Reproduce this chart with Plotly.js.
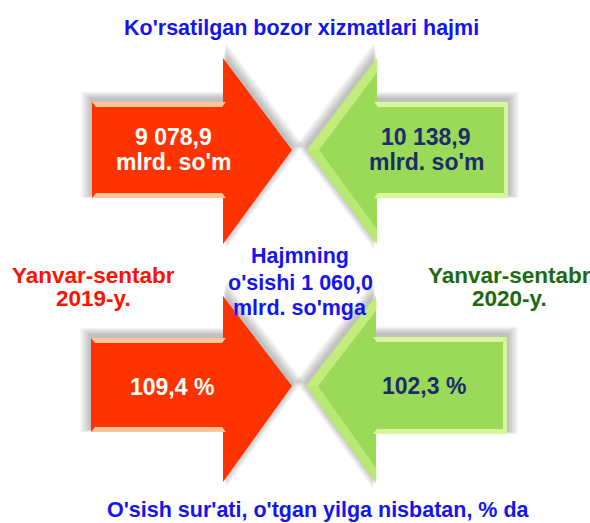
<!DOCTYPE html>
<html>
<head>
<meta charset="utf-8">
<script src="https://cdn.plot.ly/plotly-3.0.1.min.js"></script>
<style>html,body{margin:0;padding:0;background:#fff;}#chart{width:590px;height:523px;}</style>
</head>
<body>
<div id="chart"></div>
<script>
// ---- data ----
const titleTop = "Ko'rsatilgan bozor xizmatlari hajmi";
const titleBottom = "O'sish sur'ati, o'tgan yilga nisbatan, % da";
const periodLabels = ["Yanvar-sentabr", "Yanvar-sentabr"];
const yearLabels = ["2019-y.", "2020-y."];
const volumes = [9078.9, 10138.9];          // mlrd. so'm
const growthRates = [109.4, 102.3];         // %
const unitVolume = "mlrd. so'm";
const increaseLines = ["Hajmning", "o'sishi", "mlrd. so'mga"];

function fmt(v) {
  const s = v.toFixed(1).split(".");
  const ip = s[0].replace(/\B(?=(\d{3})+(?!\d))/g, " ");
  return ip + "," + s[1];
}
const increase = Math.round((volumes[1] - volumes[0]) * 10) / 10;

// ---- geometry (pixel space) ----
const FONT = "Liberation Sans, Arial, sans-serif";
const RED = "#FF3300", RED_LIGHT = "#FFC49A";
const GREEN = "#9BDA58", GREEN_LIGHT = "#D6F79A";
const NAVY = "#1A2C6C";

// arrow spec: dir +1 right, -1 left
const arrows = [
  {dir: 1, bx0: 92, bx1: 223, by0: 102, by1: 198, tip: 292, hy0: 58, hy1: 244, ty: 150, c: RED, l: RED_LIGHT},
  {dir: -1, bx0: 377, bx1: 508, by0: 102, by1: 198, tip: 307, hy0: 58, hy1: 244, ty: 150, c: GREEN, l: GREEN_LIGHT},
  {dir: 1, bx0: 91, bx1: 223, by0: 338, by1: 432, tip: 292, hy0: 296, hy1: 482, ty: 386, c: RED, l: RED_LIGHT},
  {dir: -1, bx0: 376, bx1: 507, by0: 337, by1: 434, tip: 306, hy0: 296, hy1: 483, ty: 386, c: GREEN, l: GREEN_LIGHT}
];

function arrowPts(a) {
  if (a.dir === 1) {
    return [[a.bx0, a.by0], [a.bx1, a.by0], [a.bx1, a.hy0], [a.tip, a.ty], [a.bx1, a.hy1], [a.bx1, a.by1], [a.bx0, a.by1]];
  } else {
    return [[a.bx1, a.by0], [a.bx0, a.by0], [a.bx0, a.hy0], [a.tip, a.ty], [a.bx0, a.hy1], [a.bx0, a.by1], [a.bx1, a.by1]];
  }
}
function toPath(pts) {
  return "M" + pts.map(p => p[0].toFixed(1) + "," + p[1].toFixed(1)).join("L") + "Z";
}

const shapes = [];
// shadows
arrows.forEach(a => {
  const pts = arrowPts(a);
  const cx = (Math.min(a.bx0, a.tip) + Math.max(a.bx1, a.tip)) / 2;
  const cy = (a.by0 + a.by1) / 2 + 20;
  for (let k = 1; k <= 6; k++) {
    const s = 1 + 0.018 * k;
    const sp = pts.map(p => [cx + (p[0] - cx) * s, cy + (p[1] - cy) * s - 3]);
    shapes.push({type: "path", xref: "x", yref: "y", path: toPath(sp),
      fillcolor: "rgba(0,0,0,0.045)", line: {width: 0}, layer: "below"});
  }
});
// arrows
arrows.forEach(a => {
  const pts = arrowPts(a);
  shapes.push({type: "path", xref: "x", yref: "y", path: toPath(pts),
    fillcolor: a.c, line: {width: 0}});
  const x0 = Math.min(a.bx0, a.bx1), x1 = Math.max(a.bx0, a.bx1);
  const inner = a.dir === 1 ? x1 + 3 : x0 - 3;
  const outer = a.dir === 1 ? x0 : x1;
  shapes.push({type: "path", xref: "x", yref: "y",
    path: toPath([[outer, a.by0], [inner, a.by0], [inner - 4 * a.dir, a.by0 + 5], [outer + 4 * a.dir, a.by0 + 5]]),
    fillcolor: a.l, line: {width: 0}});
  shapes.push({type: "path", xref: "x", yref: "y",
    path: toPath([[outer, a.by1], [inner, a.by1], [inner - 4 * a.dir, a.by1 - 5], [outer + 4 * a.dir, a.by1 - 5]]),
    fillcolor: a.l, line: {width: 0}});
  if (a.c === GREEN) {
    shapes.push({type: "path", xref: "x", yref: "y",
      path: toPath([[outer, a.by0], [outer, a.by1], [outer + 4 * a.dir, a.by1 - 5], [outer + 4 * a.dir, a.by0 + 5]]),
      fillcolor: a.l, line: {width: 0}});
    shapes.push({type: "path", xref: "x", yref: "y",
      path: toPath([[a.tip, a.ty], [a.bx0, a.hy0], [a.bx0 + 2, a.hy0 + 12], [a.tip + 12, a.ty]]),
      fillcolor: "rgba(220,250,150,0.6)", line: {width: 0}});
    shapes.push({type: "path", xref: "x", yref: "y",
      path: toPath([[a.tip, a.ty], [a.bx0, a.hy1], [a.bx0 + 2, a.hy1 - 12], [a.tip + 12, a.ty]]),
      fillcolor: "rgba(220,250,150,0.45)", line: {width: 0}});
  }
});

function ann(text, x, y, size, color, extra) {
  return Object.assign({text: text, x: x, y: y, xref: "x", yref: "y", showarrow: false,
    xanchor: "center", yanchor: "middle",
    font: {family: FONT, size: size, color: color, weight: "bold"}}, extra || {});
}

const annotations = [
  ann(titleTop, 301, 28, 21.5, "#1414F0"),
  ann(fmt(volumes[0]), 173, 137, 23, "#FFFFFF"),
  ann(unitVolume, 173, 162, 23, "#FFFFFF"),
  ann(fmt(volumes[1]), 426, 137, 23, NAVY),
  ann(unitVolume, 426, 162, 23, NAVY),
  ann(periodLabels[0], 93, 275, 22.5, "#FF1100"),
  ann(yearLabels[0], 93, 298, 22.5, "#FF1100"),
  ann(periodLabels[1], 509, 275, 22.5, "#1B6A10"),
  ann(yearLabels[1], 509, 298, 22.5, "#1B6A10"),
  ann(increaseLines[0], 300, 256, 21.5, "#1414F0"),
  ann(increaseLines[1] + " " + fmt(increase), 300, 283, 21.5, "#1414F0"),
  ann(increaseLines[2], 300, 308, 21.5, "#1414F0"),
  ann(fmt(growthRates[0]) + " %", 172, 387, 23, "#FFFFFF"),
  ann(fmt(growthRates[1]) + " %", 424, 386, 23, NAVY),
  ann(titleBottom, 318, 510, 21.5, "#1414F0")
];

const layout = {
  width: 590, height: 523,
  margin: {l: 0, r: 0, t: 0, b: 0},
  paper_bgcolor: "#FFFFFF", plot_bgcolor: "#FFFFFF",
  xaxis: {range: [0, 590], visible: false, fixedrange: true},
  yaxis: {range: [523, 0], visible: false, fixedrange: true},
  showlegend: false,
  shapes: shapes,
  annotations: annotations
};

Plotly.newPlot("chart", [{x: [], y: [], type: "scatter", mode: "markers", hoverinfo: "skip"}], layout,
  {displayModeBar: false, staticPlot: true});
</script>
</body>
</html>
